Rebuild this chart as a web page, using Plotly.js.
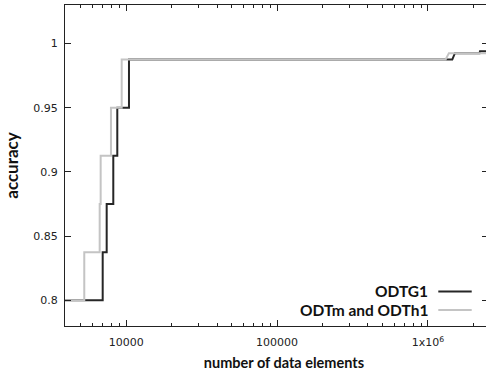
<!DOCTYPE html>
<html><head><meta charset="utf-8">
<script src="https://cdn.plot.ly/plotly-3.0.1.min.js"></script>
<style>html,body{margin:0;padding:0;overflow:hidden;background:#fff}#chart{width:490px;height:372px}</style>
</head><body><div id="chart"></div>
<script>
const seriesNames = ["ODTG1", "ODTm and ODTh1"];
const seriesColors = ["#262626", "#c4c4c4"];
const odtg1Size = [3900, 6975, 6975, 7413, 7413, 8200, 8200, 8716, 8716, 10420, 10420, 1451000, 1510000, 2200000, 2215000, 2600000];
const odtg1Acc  = [0.8, 0.8, 0.8375, 0.8375, 0.875, 0.875, 0.9125, 0.9125, 0.95, 0.95, 0.9875, 0.9875, 0.9925, 0.9925, 0.994, 0.994];
const odtmSize  = [3900, 5265, 5265, 6662, 6662, 6762, 6762, 7915, 7915, 9322, 9322, 1311000, 1378000, 2600000];
const odtmAcc   = [0.8, 0.8, 0.8375, 0.8375, 0.875, 0.875, 0.9125, 0.9125, 0.95, 0.95, 0.9875, 0.9875, 0.9925, 0.9925];
const xTickVals = [10000, 100000, 1000000];
const xTickText = ["10000", "100000", "1x10<sup>6</sup>"];
const xMinorVals = [5000,6000,7000,8000,9000,20000,30000,40000,50000,60000,70000,80000,90000,200000,300000,400000,500000,600000,700000,800000,900000,2000000];
const yTickVals = [0.8, 0.85, 0.9, 0.95, 1];
const yTickText = ["0.8", "0.85", "0.9", "0.95", "1"];

const traces = [
  {x: odtg1Size, y: odtg1Acc, name: seriesNames[0], mode: "lines", line: {color: seriesColors[0], width: 2}},
  {x: odtmSize, y: odtmAcc, name: seriesNames[1], mode: "lines", line: {color: seriesColors[1], width: 2}}
];

const legY = [0.1075, 0.0498];
const annotations = seriesNames.map((n, i) => ({
  xref: "paper", yref: "paper", x: 0.864, y: legY[i], xanchor: "right", yanchor: "middle",
  text: "<b>" + n + "</b>", showarrow: false,
  font: {family: "Lato, sans-serif", size: 15.5, color: "#111"}
}));
const shapes = seriesNames.map((n, i) => ({
  type: "line", xref: "paper", yref: "paper", x0: 0.8825, x1: 0.9615, y0: legY[i], y1: legY[i],
  line: {color: seriesColors[i], width: 2}
}));

const layout = {
  width: 490, height: 372,
  margin: {l: 65, r: 2, t: 5, b: 46},
  paper_bgcolor: "#fff", plot_bgcolor: "#fff",
  showlegend: false,
  xaxis: {
    type: "log", range: [Math.log10(3923), Math.log10(2.503e6)],
    tickmode: "array", tickvals: xTickVals, ticktext: xTickText,
    ticks: "inside", ticklen: 6, tickcolor: "#222", tickwidth: 1,
    minor: {tickmode: "array", tickvals: xMinorVals, ticks: "inside", ticklen: 3, tickcolor: "#222", showgrid: false},
    showline: true, linecolor: "#222", linewidth: 1, mirror: "ticks",
    showgrid: false, zeroline: false,
    ticklabelstandoff: 6,
    tickfont: {family: "DejaVu Sans, sans-serif", size: 11, color: "#222"},
    title: {text: "&#160;&#160;&#160;&#160;<b>number of data elements</b>", font: {family: "Lato, sans-serif", size: 14.5, color: "#111"}, standoff: 9}
  },
  yaxis: {
    range: [0.78, 1.03],
    tickmode: "array", tickvals: yTickVals, ticktext: yTickText,
    ticks: "inside", ticklen: 6, tickcolor: "#222", tickwidth: 1,
    showline: true, linecolor: "#222", linewidth: 1, mirror: "ticks",
    showgrid: false, zeroline: false,
    ticklabelstandoff: 4,
    tickfont: {family: "DejaVu Sans, sans-serif", size: 11, color: "#222"},
    title: {text: "<b>accuracy</b>", font: {family: "Lato, sans-serif", size: 17, color: "#111"}, standoff: 10}
  },
  annotations: annotations,
  shapes: shapes
};

Plotly.newPlot("chart", traces, layout, {staticPlot: true, displayModeBar: false});
</script>
</body></html>
